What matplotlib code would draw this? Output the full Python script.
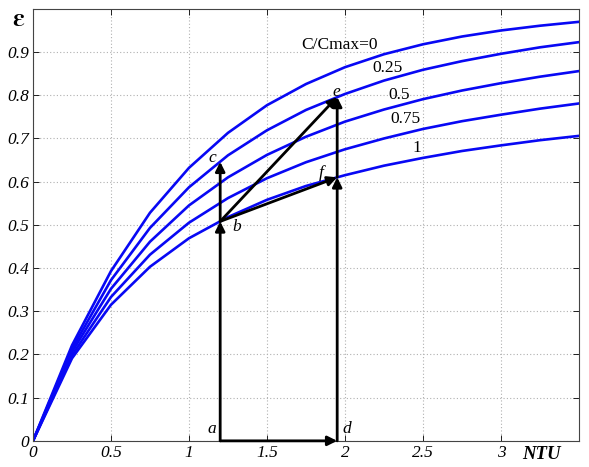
import matplotlib
matplotlib.use("Agg")
import matplotlib.pyplot as plt

# ---- data ----
ntu = [0, 0.25, 0.5, 0.75, 1.0, 1.25, 1.5, 1.75, 2.0, 2.25, 2.5, 2.75, 3.0, 3.25, 3.5]
eps_c0 = [0, 0.221, 0.393, 0.528, 0.632, 0.713, 0.777, 0.826, 0.865, 0.895, 0.918, 0.936, 0.950, 0.961, 0.970]
eps_c025 = [0, 0.213, 0.372, 0.493, 0.587, 0.661, 0.719, 0.766, 0.803, 0.834, 0.859, 0.879, 0.896, 0.911, 0.923]
eps_c05 = [0, 0.206, 0.352, 0.461, 0.545, 0.610, 0.662, 0.704, 0.739, 0.767, 0.791, 0.811, 0.828, 0.843, 0.856]
eps_c075 = [0, 0.198, 0.333, 0.431, 0.505, 0.562, 0.608, 0.645, 0.675, 0.700, 0.722, 0.740, 0.755, 0.769, 0.781]
eps_c1 = [0, 0.191, 0.315, 0.403, 0.469, 0.518, 0.558, 0.590, 0.615, 0.637, 0.655, 0.671, 0.684, 0.696, 0.706]
curve_labels = ["C/Cmax=0", "0.25", "0.5", "0.75", "1"]
curve_label_x = [1.965, 2.27, 2.35, 2.385, 2.46]
curve_label_y = [0.916, 0.862, 0.800, 0.744, 0.678]

point_names = ["a", "b", "c", "d", "e", "f"]
point_ntu = [1.2, 1.2, 1.2, 1.95, 1.95, 1.95]
point_eps = [0.0, 0.508, 0.646, 0.0, 0.796, 0.610]
point_label_dx = [-0.055, 0.105, -0.05, 0.06, -0.005, -0.1]
point_label_dy = [0.027, -0.014, 0.009, 0.027, 0.011, 0.01]
arrows = [("a", "b"), ("b", "c"), ("a", "d"), ("d", "f"), ("f", "e"), ("b", "e"), ("b", "f")]

xticks = [0, 0.5, 1, 1.5, 2, 2.5, 3]
xtick_labels = ["0", "0.5", "1", "1.5", "2", "2.5", "3"]
yticks = [0, 0.1, 0.2, 0.3, 0.4, 0.5, 0.6, 0.7, 0.8, 0.9]
ytick_labels = ["0", "0.1", "0.2", "0.3", "0.4", "0.5", "0.6", "0.7", "0.8", "0.9"]

plt.rcParams['font.family'] = ['Liberation Serif', 'DejaVu Serif']
plt.rcParams['mathtext.fontset'] = 'stix'

fig = plt.figure(figsize=(5.89, 4.67), dpi=100)
ax = fig.add_axes([0.056, 0.056, 0.927, 0.925])

for ys in [eps_c0, eps_c025, eps_c05, eps_c075, eps_c1]:
    ax.plot(ntu, ys, color='#0808f4', lw=1.9, solid_joinstyle='miter')

for lab, x, y in zip(curve_labels, curve_label_x, curve_label_y):
    ax.text(x, y, lab, fontsize=12.5, ha='center', va='center')

pts = {n: (x, y) for n, x, y in zip(point_names, point_ntu, point_eps)}
for s, t in arrows:
    ax.annotate("", xy=pts[t], xytext=pts[s],
                arrowprops=dict(arrowstyle='-|>', color='black', lw=2,
                                mutation_scale=14, shrinkA=0, shrinkB=0))
for n, x, y, dx, dy in zip(point_names, point_ntu, point_eps, point_label_dx, point_label_dy):
    ax.text(x + dx, y + dy, n, fontsize=12.5, style='italic', ha='center', va='center')

ax.set_xlim(0, 3.5)
ax.set_ylim(0, 1)
ax.set_xticks(xticks)
ax.set_xticklabels(xtick_labels, style='italic', fontsize=12.5)
ax.set_yticks(yticks)
ax.set_yticklabels(ytick_labels, style='italic', fontsize=12.5)
ax.tick_params(direction='in', length=4, width=0.6, pad=3, colors='black',
               top=True, right=True)
ax.grid(True, linestyle=(0, (1, 2)), color='#b0b0b0', lw=0.8)
for sp in ax.spines.values():
    sp.set_linewidth(0.8)
    sp.set_color('#444444')

ax.text(3.26, -0.012, "NTU", fontsize=13.5, style='italic', weight='bold',
        ha='center', va='top', transform=ax.transData)
fig.text(0.032, 0.958, r"$\boldsymbol{\varepsilon}$", fontsize=19, ha='center', va='center')

fig.savefig("out.png", dpi=100)
